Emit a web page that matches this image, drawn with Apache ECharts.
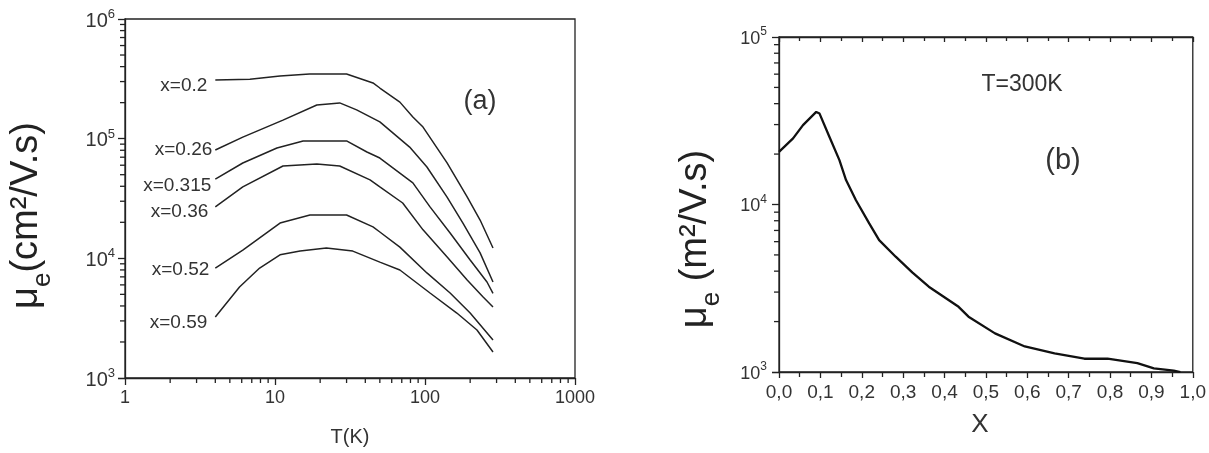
<!DOCTYPE html>
<html><head><meta charset="utf-8">
<script src="https://cdn.jsdelivr.net/npm/echarts@6/dist/echarts.min.js"></script>
<style>html,body{margin:0;padding:0;background:#fff}#c{width:1209px;height:453px}</style>
</head><body><div id="c"></div>
<script>
// ---------- data ----------
// panel (a): [T (K), mu_e (cm^2/V.s)]
const curveLabels = ['x=0.2', 'x=0.26', 'x=0.315', 'x=0.36', 'x=0.52', 'x=0.59'];
const mu_x020 = [[4,3.09e5],[6.8,3.14e5],[10.8,3.34e5],[17,3.47e5],[30,3.47e5],[45,2.92e5],[50,2.65e5],[68,2.02e5],[83,1.52e5],[97,1.25e5],[140,6.3e4],[191,3.26e4],[233,2.09e4],[284,1.22e4]];
const mu_x026 = [[4,8.04e4],[6.1,1.03e5],[11.3,1.43e5],[19,1.91e5],[27,1.99e5],[35,1.74e5],[50,1.38e5],[79,8.5e4],[103,5.8e4],[140,3.26e4],[179,1.97e4],[233,1.11e4],[284,6.34e3]];
const mu_x0315 = [[4,4.6e4],[6.1,6.26e4],[10.3,8.36e4],[15.4,9.57e4],[30,9.57e4],[41,7.74e4],[50,6.89e4],[83,4.27e4],[108,2.69e4],[147,1.63e4],[200,9.68e3],[259,6.34e3],[284,5.1e3]];
const mu_x036 = [[4,2.69e4],[6.1,3.95e4],[11.3,5.91e4],[19,6.14e4],[27,5.91e4],[43,4.52e4],[50,3.95e4],[71,2.9e4],[97,1.73e4],[140,1.03e4],[191,6.59e3],[244,4.75e3],[284,3.92e3]];
const mu_x052 = [[4,8.3e3],[6.1,1.17e4],[10.8,1.97e4],[17.1,2.3e4],[30,2.3e4],[45,1.83e4],[50,1.66e4],[68,1.24e4],[103,7.55e3],[147,5.13e3],[200,3.49e3],[284,2.08e3]];
const mu_x059 = [[4,3.23e3],[5.8,5.76e3],[7.9,8.3e3],[10.8,1.07e4],[14.7,1.15e4],[22,1.22e4],[33,1.15e4],[50,9.3e3],[68,7.99e3],[108,5.13e3],[163,3.49e3],[222,2.52e3],[284,1.65e3]];
// panel (b): composition x and mu_e at 300 K
const compX = [0, 0.034, 0.058, 0.09, 0.098, 0.122, 0.146, 0.162, 0.186, 0.218, 0.242, 0.282, 0.322, 0.362, 0.434, 0.458, 0.522, 0.594, 0.666, 0.738, 0.794, 0.866, 0.906, 0.954, 0.97];
const mu300 = [2.06e4, 2.48e4, 2.98e4, 3.57e4, 3.49e4, 2.53e4, 1.84e4, 1.40e4, 1.06e4, 7.71e3, 6.13e3, 4.88e3, 3.93e3, 3.23e3, 2.45e3, 2.14e3, 1.70e3, 1.42e3, 1.29e3, 1.20e3, 1.20e3, 1.13e3, 1.05e3, 1.02e3, 1.0e3];
// tick values
const yTicksA = [1e3, 1e4, 1e5, 1e6];
const yTicksB = [1e3, 1e4, 1e5];
const minorMantissa = [2,3,4,5,6,7,8,9];
const decadesT = [1,10,100];
const decadesMuA = [1e3,1e4,1e5];
const decadesMuB = [1e3,1e4];

// ---------- chart ----------
const ff = '"Liberation Sans", Arial, Helvetica, sans-serif';
const ink = '#222';
const txt = '#333';
const curves = [mu_x020, mu_x026, mu_x0315, mu_x036, mu_x052, mu_x059];
const labelOffsets = [[-8,6],[-3,0],[-4,7],[-7,5],[-6,2],[-8,6]];

const axLine = {show:true, lineStyle:{color:ink, width:1.3}};
const tickStyle = {color:ink, width:1.3};
const option = {
  animation:false,
  backgroundColor:'#fff',
  grid:[
    {left:125, top:19, width:450, height:359, show:true, borderColor:ink, borderWidth:1.3},
    {left:779, top:37, width:417, height:335, show:true, borderColor:ink, borderWidth:1.3}
  ],
  xAxis:[
    {gridIndex:0, type:'log', logBase:10, min:1, max:1000, axisLine:axLine,
     axisTick:{show:true, inside:false, length:7, lineStyle:tickStyle},
     axisLabel:{fontSize:18, color:txt, margin:11, fontFamily:ff, formatter:v => String(Math.round(v))},
     splitLine:{show:false}},
    {gridIndex:1, type:'value', min:0, max:1, interval:0.1, axisLine:axLine,
     axisTick:{show:true, inside:false, length:6, lineStyle:tickStyle},
     minorTick:{show:true, splitNumber:2, length:5, lineStyle:tickStyle},
     axisLabel:{fontSize:19, color:txt, margin:11, fontFamily:ff, formatter:v => v.toFixed(1).replace('.', ',')},
     splitLine:{show:false}, minorSplitLine:{show:false}},
    {gridIndex:1, type:'value', position:'top', min:0, max:1, interval:0.1, axisLine:axLine,
     axisTick:{show:true, inside:true, length:5, lineStyle:tickStyle},
     minorTick:{show:true, splitNumber:2, length:4, lineStyle:tickStyle},
     axisLabel:{show:false}, splitLine:{show:false}, minorSplitLine:{show:false}}
  ],
  yAxis:[
    {gridIndex:0, type:'log', logBase:10, min:1e3, max:1e6, axisLine:axLine,
     axisTick:{show:true, inside:false, length:7, lineStyle:tickStyle},
     axisLabel:{show:false}, splitLine:{show:false}},
    {gridIndex:1, type:'log', logBase:10, min:1e3, max:1e5, axisLine:axLine,
     axisTick:{show:true, inside:false, length:7, lineStyle:tickStyle},
     axisLabel:{show:false}, splitLine:{show:false}}
  ],
  series:[
    ...curves.map((c, i) => ({type:'line', name:curveLabels[i], xAxisIndex:0, yAxisIndex:0, data:c,
      showSymbol:false, lineStyle:{color:ink, width:1.5}, silent:true})),
    {type:'line', name:'T=300K', xAxisIndex:1, yAxisIndex:1, data:compX.map((x,i)=>[x, mu300[i]]),
     showSymbol:false, lineStyle:{color:'#111', width:2.3}, silent:true}
  ]
};
const chart = echarts.init(document.getElementById('c'), null, {renderer:'canvas'});
chart.setOption(option);

const g = [];
function t(x, y, text, size, extra){
  g.push(Object.assign({type:'text', x, y, silent:true,
    style:{text, fontSize:size, fontFamily:ff, fill:txt, align:'center', verticalAlign:'middle'}}, extra||{}));
}
function tick(x1, y1, x2, y2){
  g.push({type:'line', silent:true, z:10, shape:{x1, y1, x2, y2}, style:{stroke:ink, lineWidth:1.3}});
}
// minor ticks of the log axes, placed through the axes' own scales
const L = 5;
decadesMuA.forEach(d => minorMantissa.forEach(m => {
  const p = chart.convertToPixel({gridIndex:0}, [1, m*d]); tick(p[0]-L, p[1], p[0], p[1]);
}));
decadesT.forEach(d => minorMantissa.forEach(m => {
  const p = chart.convertToPixel({gridIndex:0}, [m*d, 1e3]); tick(p[0], p[1], p[0], p[1]+L);
}));
decadesMuB.forEach(d => minorMantissa.forEach(m => {
  const p = chart.convertToPixel({gridIndex:1}, [0, m*d]); tick(p[0]-L, p[1], p[0], p[1]);
}));
// power-of-ten tick labels, positioned by the y axes
function expText(v){ return '{b|10}{p|' + Math.round(Math.log10(v)) + '}'; }
function yLab(gridIndex, xv, v, gap, bs, ps){
  const p = chart.convertToPixel({gridIndex}, [xv, v]);
  g.push({type:'text', x:p[0]-gap, y:p[1]+2, silent:true,
    style:{text:expText(v), align:'right', verticalAlign:'middle',
      rich:{b:{fontSize:bs, lineHeight:26, fontFamily:ff, fill:txt, verticalAlign:'middle'},
            p:{fontSize:ps, lineHeight:ps, fontFamily:ff, fill:txt, verticalAlign:'top'}}}});
}
yTicksA.forEach(v => yLab(0, 1, v, 10, 20, 13));
yTicksB.forEach(v => yLab(1, 0, v, 12, 18, 12));

t(350, 437, 'T(K)', 20);
t(980, 425, 'X', 26);
t(480, 102, '(a)', 27);
t(1022, 85, 'T=300K', 23);
t(1063, 161, '(b)', 29);
const yTitleRich = {
  m:{fontSize:38, fontFamily:ff, fill:ink, verticalAlign:'middle'},
  s:{fontSize:26, fontFamily:ff, fill:ink, verticalAlign:'top', padding:[32,0,0,0]}
};
g.push({type:'text', x:26.5, y:215.5, rotation:Math.PI/2, silent:true,
  style:{text:'{m|μ}{s|e}{m|(cm²/V.s)}', rich:yTitleRich, align:'center', verticalAlign:'middle'}});
g.push({type:'text', x:695.5, y:239, rotation:Math.PI/2, silent:true,
  style:{text:'{m|μ}{s|e}{m| (m²/V.s)}', rich:yTitleRich, align:'center', verticalAlign:'middle'}});
curves.forEach((c, i) => {
  const p = chart.convertToPixel({gridIndex:0}, c[0]);
  g.push({type:'text', x:p[0] + labelOffsets[i][0], y:p[1] + labelOffsets[i][1], silent:true,
    style:{text:curveLabels[i], fontSize:19, fontFamily:ff, fill:txt, align:'right', verticalAlign:'middle'}});
});
chart.setOption({graphic:g});
</script></body></html>
